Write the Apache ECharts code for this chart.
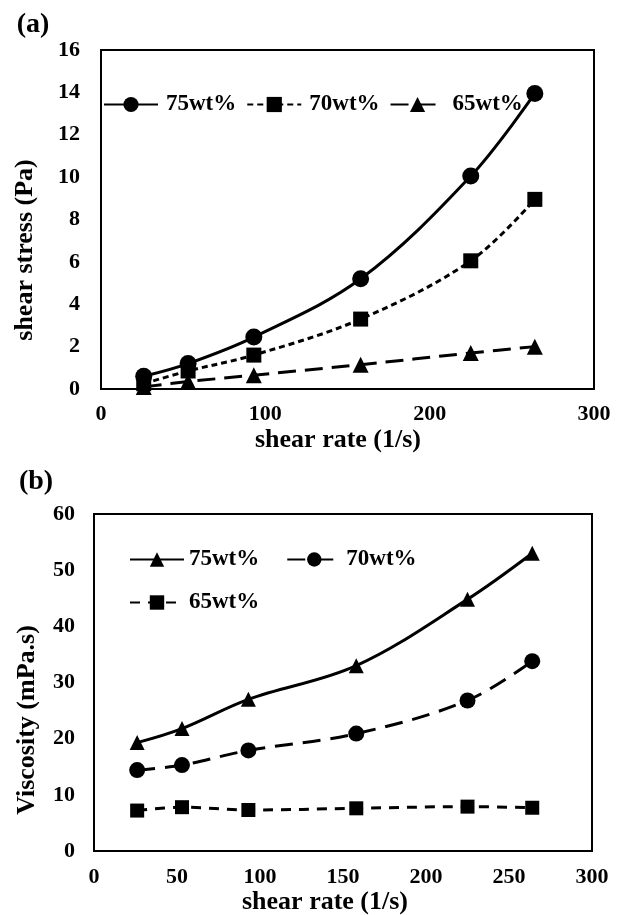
<!DOCTYPE html>
<html>
<head>
<meta charset="utf-8">
<script src="https://cdn.jsdelivr.net/npm/echarts@6/dist/echarts.min.js"></script>
<style>
  html, body { margin: 0; padding: 0; background: #fff; }
  #chart { width: 625px; height: 915px; }
</style>
</head>
<body>
<div id="chart"></div>
<script>
// Shear rates (1/s) shared by both panels
const shearRate = [26, 53, 93, 158, 225, 264];

// Panel (a): shear stress (Pa)
const stress75 = [0.6, 1.2, 2.45, 5.2, 10.05, 13.95];
const stress70 = [0.25, 0.85, 1.6, 3.3, 6.05, 8.95];
const stress65 = [0.1, 0.35, 0.65, 1.15, 1.7, 2.0];

// Panel (b): viscosity (mPa.s)
const visc75 = [19.3, 21.8, 27, 33, 44.8, 53];
const visc70 = [14.4, 15.3, 17.9, 20.9, 26.8, 33.8];
const visc65 = [7.2, 7.8, 7.3, 7.6, 7.9, 7.7];

// Legend labels
const seriesLabels = {
  a75: '75wt%', a70: '70wt%', a65: '65wt%',
  b75: '75wt%', b70: '70wt%', b65: '65wt%'
};

const FONT = '"Liberation Serif", serif';
const pairs = (ys) => shearRate.map((x, i) => [x, ys[i]]);

function lineSeries(name, grid, ys, symbol, size, dash) {
  return {
    name: name,
    type: 'line',
    xAxisIndex: grid,
    yAxisIndex: grid,
    data: pairs(ys),
    smooth: 0.35,
    symbol: symbol,
    symbolSize: size,
    itemStyle: { color: '#000' },
    lineStyle: { color: '#000', width: 3, type: dash },
    emphasis: { disabled: true }
  };
}

const tickLabel = { color: '#000', fontFamily: FONT, fontWeight: 'bold', fontSize: 22 };
const legendTextA = { color: '#000', fontFamily: FONT, fontWeight: 'bold', fontSize: 23, padding: [0, 0, 0, 3] };
const legendTextB = { color: '#000', fontFamily: FONT, fontWeight: 'bold', fontSize: 23 };

function valueAxis(grid, min, max, interval, margin) {
  return {
    type: 'value', gridIndex: grid, min: min, max: max, interval: interval,
    axisLine: { show: false }, axisTick: { show: false }, splitLine: { show: false },
    axisLabel: Object.assign({ margin: margin }, tickLabel)
  };
}

function graphicText(text, x, y, size, rotate) {
  return {
    type: 'text', x: x, y: y, rotation: rotate ? Math.PI / 2 : 0,
    style: {
      text: text, fill: '#000', font: 'bold ' + size + 'px ' + FONT,
      align: 'center', verticalAlign: 'middle'
    }
  };
}

const chart = echarts.init(document.getElementById('chart'), null, { renderer: 'canvas' });
chart.setOption({
  animation: false,
  backgroundColor: '#fff',
  grid: [
    { left: 101, top: 50, width: 493, height: 339, show: true, borderColor: '#000', borderWidth: 2, containLabel: false },
    { left: 94, top: 514, width: 498, height: 337, show: true, borderColor: '#000', borderWidth: 2, containLabel: false }
  ],
  xAxis: [
    valueAxis(0, 0, 300, 100, 14),
    valueAxis(1, 0, 300, 50, 15)
  ],
  yAxis: [
    valueAxis(0, 0, 16, 2, 21),
    valueAxis(1, 0, 60, 10, 19)
  ],
  legend: [
    {
      data: ['a75', 'a70', 'a65'], left: 103, top: 93, padding: 0,
      itemWidth: 54, itemHeight: 19, itemGap: 10, selectedMode: false,
      formatter: (n) => seriesLabels[n], textStyle: legendTextA
    },
    {
      data: ['b75', 'b70'], left: 129, top: 548, padding: 0,
      itemWidth: 54, itemHeight: 18, itemGap: 27, selectedMode: false,
      formatter: (n) => seriesLabels[n], textStyle: legendTextB
    },
    {
      data: ['b65'], left: 129, top: 591, padding: 0,
      itemWidth: 54, itemHeight: 18, selectedMode: false,
      formatter: (n) => seriesLabels[n], textStyle: legendTextB
    }
  ],
  series: [
    lineSeries('a75', 0, stress75, 'circle', 17, 'solid'),
    lineSeries('a70', 0, stress70, 'rect', 15, [6, 4]),
    lineSeries('a65', 0, stress65, 'triangle', 16, [18, 9]),
    lineSeries('b75', 1, visc75, 'triangle', 15, 'solid'),
    lineSeries('b70', 1, visc70, 'circle', 16, [18, 10]),
    lineSeries('b65', 1, visc65, 'rect', 14, [10, 8])
  ],
  graphic: [
    graphicText('(a)', 33, 25, 28, false),
    graphicText('(b)', 36, 482, 28, false),
    graphicText('shear rate (1/s)', 338, 440, 26, false),
    graphicText('shear rate (1/s)', 325, 902, 26, false),
    graphicText('shear stress (Pa)', 25, 250, 26, true),
    graphicText('Viscosity (mPa.s)', 27, 720, 26, true)
  ]
});
</script>
</body>
</html>
